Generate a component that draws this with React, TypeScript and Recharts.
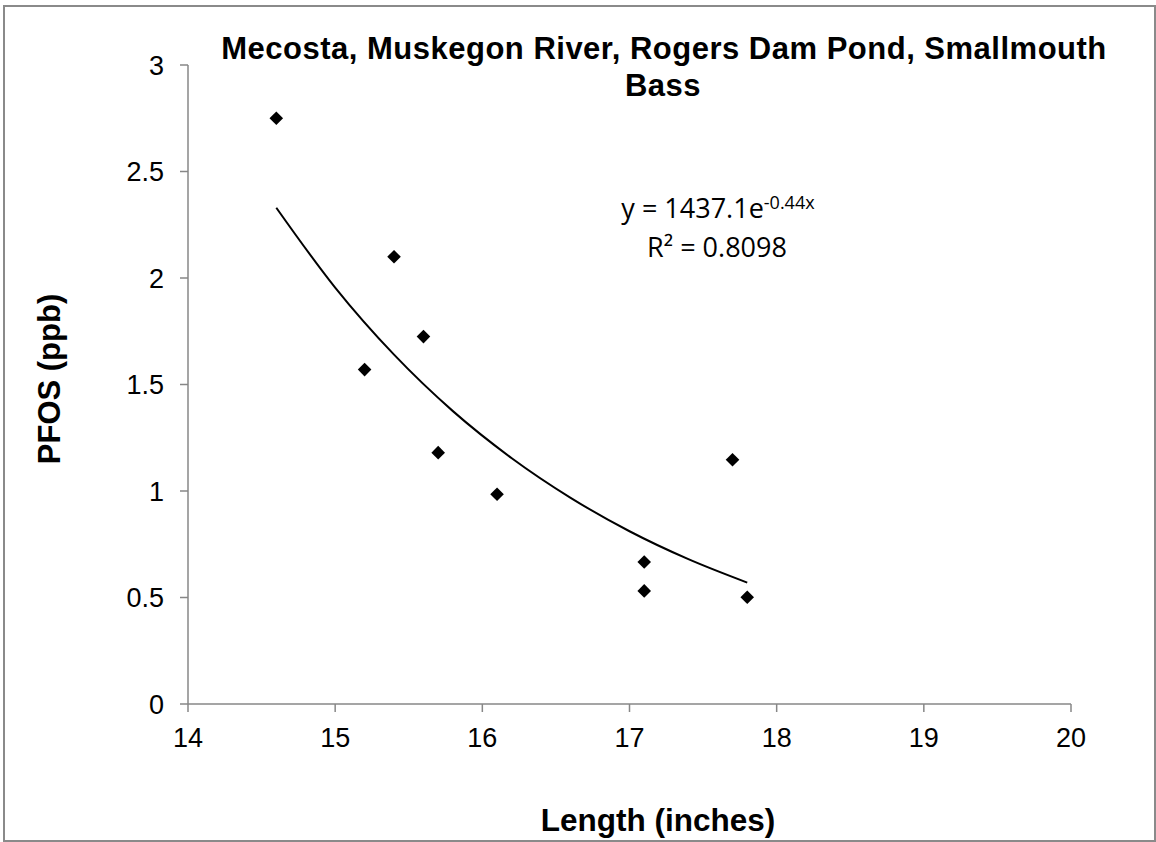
import React from "react";
import {
  ComposedChart, Scatter, Line, XAxis, YAxis, Customized,
} from "recharts";

// measured fish: length (inches) and PFOS (ppb)
const lengths = [14.6, 15.2, 15.4, 15.6, 15.7, 16.1, 17.1, 17.1, 17.7, 17.8];
const pfos = [2.75, 1.57, 2.1, 1.725, 1.18, 0.985, 0.667, 0.531, 1.147, 0.501];

// exponential trendline
const trendLengths = [14.6, 15.0, 15.4, 15.8, 16.2, 16.6, 17.0, 17.4, 17.8];
const trendPfos = [2.33, 1.955, 1.64, 1.375, 1.154, 0.968, 0.811, 0.68, 0.57];

const xTicks = [14, 15, 16, 17, 18, 19, 20];
const yTicks = [0, 0.5, 1, 1.5, 2, 2.5, 3];

const titleLines = ["Mecosta, Muskegon River, Rogers Dam Pond, Smallmouth", "Bass"];

const points = lengths.map((x, i) => ({ x, y: pfos[i] }));
const trend = trendLengths.map((x, i) => ({ x, y: trendPfos[i] }));

const AXIS = "#878787";
const FONT = "'Liberation Sans', Arial, sans-serif";

function Diamond(props: { cx?: number; cy?: number }) {
  const { cx = 0, cy = 0 } = props;
  const r = 6.8;
  return <polygon points={`${cx},${cy - r} ${cx + r},${cy} ${cx},${cy + r} ${cx - r},${cy}`} fill="#000" />;
}

function Overlay() {
  return (
    <g fontFamily={FONT}>
      <text x={664} y={59} textAnchor="middle" fontSize={31} letterSpacing={0.5} fontWeight="bold" fill="#000">{titleLines[0]}</text>
      <text x={663} y={96} textAnchor="middle" fontSize={31} letterSpacing={0.5} fontWeight="bold" fill="#000">{titleLines[1]}</text>
      <text x={60} y={379} transform="rotate(-90 60 379)" textAnchor="middle" fontSize={31} fontWeight="bold" fill="#000">
        PFOS (ppb)
      </text>
      <text x={658} y={831} textAnchor="middle" fontSize={31.5} fontWeight="bold" fill="#000">Length (inches)</text>
      <text x={718} y={218} textAnchor="middle" fontSize={27} fontFamily="'Open Sans', sans-serif" fill="#000">
        y = 1437.1e<tspan fontSize={18} dy={-9}>-0.44x</tspan>
      </text>
      <text x={717} y={257} textAnchor="middle" fontSize={27} fontFamily="'Open Sans', sans-serif" fill="#000">
        R² = 0.8098
      </text>
    </g>
  );
}

export default function App() {
  return (
    <div style={{ position: "relative", width: 1156, height: 842, background: "#fff" }}>
      <style>{`body{margin:0}`}</style>
      <ComposedChart width={1156} height={842} margin={{ top: 65, right: 85, bottom: 0, left: 0 }}>
        <XAxis
          type="number" dataKey="x" domain={[14, 20]} ticks={xTicks}
          height={138} tickSize={8} tickMargin={16}
          stroke={AXIS} strokeWidth={1.5}
          tick={{ fontSize: 27, fill: "#000", fontFamily: FONT }}
        />
        <YAxis
          type="number" dataKey="y" domain={[0, 3]} ticks={yTicks}
          width={188} tickSize={8} tickMargin={16}
          stroke={AXIS} strokeWidth={1.5}
          tick={{ fontSize: 27, fill: "#000", fontFamily: FONT }}
        />
        <Line
          data={trend} dataKey="y" type="monotone" stroke="#000" strokeWidth={2}
          dot={false} activeDot={false} isAnimationActive={false}
        />
        <Scatter data={points} dataKey="y" shape={<Diamond />} isAnimationActive={false} />
        <Customized component={<Overlay />} />
      </ComposedChart>
      <div
        style={{
          position: "absolute", left: 3, top: 5, width: 1153, height: 837,
          border: "2px solid #8a8a8a", boxSizing: "border-box", pointerEvents: "none",
        }}
      />
    </div>
  );
}
